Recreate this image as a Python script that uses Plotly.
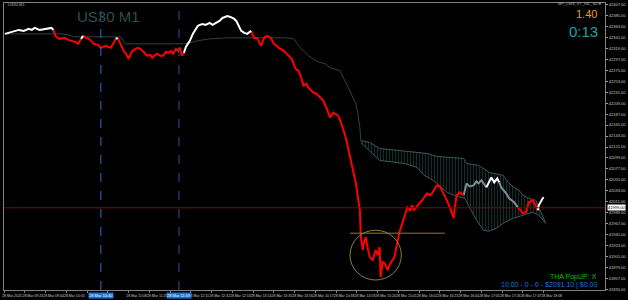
import plotly.graph_objects as go

# ---------------- data ----------------
# main price path (minute offset, price, bar colour state: w=above, r=below, g=inside cloud)
price_t = [3, 7, 12, 17, 22, 27, 30, 33, 38, 43, 47, 50, 52,
           54, 58, 63, 67, 70, 74, 77, 80, 82,
           85, 88, 93, 97, 100, 105, 110, 113, 115, 117,
           120, 123, 126, 128, 132, 137, 140, 142, 147, 150, 152, 155, 157, 160, 163, 166, 168, 171, 173, 176, 178, 180, 182, 184,
           186, 188, 190, 193, 195, 198, 200, 203, 206, 210, 213, 215, 218, 220, 223, 226, 228, 231, 233, 235, 237, 240, 242, 245, 248, 252,
           255, 258, 262, 265, 268, 272, 275, 278, 280, 285, 288, 291, 293, 297, 300, 303, 305, 308, 310, 313, 315, 318, 320, 323, 325,
           328, 330, 332, 335, 337, 340, 343, 345, 348, 350, 353, 355, 357, 358, 360, 362, 363, 365, 366, 368, 370, 372, 375, 378, 380,
           382, 383, 385, 387, 390, 392, 393, 395, 397, 400, 402, 405, 408, 410, 413, 415, 417, 420, 422, 425, 427, 430, 433, 435, 438,
           440, 443, 445, 448, 450, 453, 455, 457, 458, 460, 463, 467,
           470, 473, 477, 480, 482, 485, 488, 490,
           495, 498, 501, 503,
           505, 510, 513, 518, 522,
           527, 530, 533, 537, 540, 542,
           543, 547, 548]
price_v = [42348, 42350, 42354, 42356, 42354, 42358, 42356, 42360, 42356, 42358, 42360, 42360, 42356,
           42344, 42338, 42340, 42336, 42334, 42332, 42328, 42338, 42344,
           42340, 42338, 42328, 42326, 42320, 42324, 42320, 42330, 42338, 42340,
           42328, 42314, 42306, 42298, 42314, 42320, 42318, 42314, 42304, 42306, 42300, 42306, 42308, 42304, 42304, 42312, 42310, 42314, 42308, 42318, 42314, 42320, 42304, 42310,
           42322, 42328, 42334, 42348, 42354, 42364, 42366, 42368, 42366, 42370, 42366, 42368, 42372, 42374, 42380, 42382, 42384, 42382, 42380, 42378, 42374, 42360, 42354, 42350, 42348, 42354,
           42340, 42340, 42324, 42340, 42344, 42340, 42328, 42324, 42320, 42314, 42308, 42304, 42298, 42278, 42274, 42258, 42244, 42248, 42240, 42234, 42230, 42228, 42224, 42218, 42214,
           42200, 42190, 42180, 42190, 42188, 42184, 42170, 42158, 42138, 42120, 42094, 42074, 42060, 42048, 42020, 41994, 41940, 41914, 41928, 41940, 41918, 41900, 41894, 41914, 41904,
           41920, 41860, 41890, 41888, 41874, 41884, 41888, 41894, 41900, 41934, 41950, 41968, 41988, 42000, 41994, 42004, 41994, 42004, 42008, 42014, 42020, 42028, 42024, 42028, 42038,
           42044, 42042, 42034, 42024, 42014, 42000, 41988, 41978, 42000, 42024, 42030, 42024,
           42048, 42042, 42044, 42052, 42048, 42054, 42046, 42040,
           42060, 42050, 42058, 42050,
           42040, 42028, 42018, 42010, 42000,
           41988, 41990, 42010, 42014, 42000, 41994,
           42004, 42018, 42020]
price_state = (["w"] * 13 + ["r"] * 8 + ["w"] + ["r"] * 9 + ["w"] + ["r"] * 24 + ["w"] * 26 +
               ["r"] * 87 + ["g"] * 8 + ["w"] * 4 + ["g"] * 5 + ["r"] * 6 + ["w"] * 3)

# base line (spans joined) before the cloud opens
base_t = [2, 55, 60, 67, 73, 120, 125, 183, 190, 197, 210, 227, 290, 295, 302, 310, 320, 327, 332, 342, 347, 352, 358, 360, 362, 363]
base_v = [42348, 42348, 42348, 42346, 42342, 42342, 42328, 42328, 42330, 42334, 42338, 42340, 42340, 42338, 42320, 42304,
          42292, 42288, 42280, 42274, 42254, 42234, 42208, 42188, 42160, 42134]

# cloud spans
spanA_t = [363, 372, 382, 400, 430, 440, 467, 470, 482, 493, 507, 512, 518, 523, 527, 533, 540, 543, 550]
spanA_v = [42134, 42130, 42118, 42114, 42108, 42102, 42098, 42088, 42084, 42070, 42064, 42050, 42040, 42034, 42024,
           42018, 42014, 42000, 41968]
spanB_t = [363, 382, 407, 420, 427, 433, 440, 450, 460, 468, 473, 480, 487, 493, 500, 507, 517, 527, 537, 543, 550]
spanB_v = [42130, 42094, 42088, 42080, 42064, 42058, 42048, 42030, 42022, 42018, 42000, 41974, 41954, 41952, 41958,
           41968, 41978, 41984, 41990, 41984, 41968]

current_price = 41999
support_level = 41948
support_t = [352, 448]
circle_t = [352, 404]
circle_v = [41854, 41954]
vline_t = [100, 179]
vline_labels = ["28 Mar 10:40", "28 Mar 11:59"]

x_tickvals = [2, 23, 44, 65, 86, 107, 128, 149, 170, 191, 212, 233, 254, 275, 296, 317, 338, 359, 380, 401,
              422, 443, 464, 485, 506, 527, 548]
# labels under the highlighted vertical-line times are covered, as in the reference
x_ticktext = ["28 Mar 2025", "28 Mar 09:23", "28 Mar 09:44", "28 Mar 10:05", "", "",
              "28 Mar 11:08", "28 Mar 11:29", "", "28 Mar 12:11", "28 Mar 12:32", "28 Mar 12:53",
              "28 Mar 13:14", "28 Mar 13:35", "28 Mar 13:56", "28 Mar 14:17", "28 Mar 14:38", "28 Mar 14:59",
              "28 Mar 15:20", "28 Mar 15:41", "28 Mar 16:02", "28 Mar 16:23", "28 Mar 16:44", "28 Mar 17:05",
              "28 Mar 17:26", "28 Mar 17:47", "28 Mar 18:08"]

# ---------------- figure ----------------
W, H = 628, 300
ML, MR, MT, MB = 2, 18, 2, 10
PW, PH = W - ML - MR, H - MT - MB


def px(xp):
    return (xp - ML) / PW


def py(yp):
    return (H - MB - yp) / PH


fig = go.Figure()

# base line
fig.add_trace(go.Scatter(x=base_t, y=base_v, mode="lines", line=dict(color="#2c4444", width=1), hoverinfo="skip"))

# cloud
fig.add_trace(go.Scatter(x=spanB_t, y=spanB_v, mode="lines", line=dict(color="#3a5a5a", width=1), hoverinfo="skip"))
fig.add_trace(go.Scatter(x=spanA_t, y=spanA_v, mode="lines", line=dict(color="#3a5a5a", width=1),
                         fill="tonexty", fillcolor="rgba(0,0,0,0)",
                         fillpattern=dict(shape="|", fgcolor="#345454", bgcolor="#000000", size=3, solidity=0.4),
                         hoverinfo="skip"))

# price path, split by colour state
colors = {"w": "#ffffff", "r": "#ff0000", "g": "#7a9090"}
segs = {"w": ([], []), "r": ([], []), "g": ([], [])}
cur = None
for i, (t, v, s) in enumerate(zip(price_t, price_v, price_state)):
    if s != cur:
        if cur is not None:
            segs[cur][0].append(None)
            segs[cur][1].append(None)
            segs[s][0].append(price_t[i - 1])
            segs[s][1].append(price_v[i - 1])
        cur = s
    segs[s][0].append(t)
    segs[s][1].append(v)
for s in ["g", "r", "w"]:
    fig.add_trace(go.Scatter(x=segs[s][0], y=segs[s][1], mode="lines",
                             line=dict(color=colors[s], width=2), connectgaps=False, hoverinfo="skip"))

shapes = []
# current price line
shapes.append(dict(type="line", xref="paper", x0=0, x1=1, yref="y", y0=current_price, y1=current_price,
                   line=dict(color="#8b0000", width=1)))
# support line
shapes.append(dict(type="line", xref="x", x0=support_t[0], x1=support_t[1], yref="y", y0=support_level,
                   y1=support_level, line=dict(color="#8a7a30", width=1)))
# circle
shapes.append(dict(type="circle", xref="x", x0=circle_t[0], x1=circle_t[1], yref="y", y0=circle_v[0],
                   y1=circle_v[1], line=dict(color="#8a8040", width=1)))
# vertical dashed lines
vcol = ["#2a70c8", "#2a5590"]
for t, c in zip(vline_t, vcol):
    shapes.append(dict(type="line", xref="x", x0=t, x1=t, yref="paper", y0=0, y1=1,
                       line=dict(color=c, width=1, dash="dash")))

ann = []
ann.append(dict(text="US30 M1", xref="paper", yref="paper", x=px(108), y=py(16), showarrow=False,
                font=dict(family="Liberation Sans", size=15, color="#2f4f4f"), xanchor="center", yanchor="middle"))
ann.append(dict(text="1.40", xref="paper", yref="paper", x=px(604), y=py(13), showarrow=False,
                font=dict(family="Liberation Sans", size=11, color="#e0a010"), xanchor="right", yanchor="middle"))
ann.append(dict(text="0:13", xref="paper", yref="paper", x=px(605), y=py(31), showarrow=False,
                font=dict(family="Liberation Sans", size=15, color="#1fa0a0"), xanchor="right", yanchor="middle"))
ann.append(dict(text="THA PopUP: X", xref="paper", yref="paper", x=px(604), y=py(277), showarrow=False,
                font=dict(family="Liberation Sans", size=7, color="#00c000"), xanchor="right", yanchor="middle"))
ann.append(dict(text="10.00 - 0 - 0 - $2091.10 | $0.00", xref="paper", yref="paper", x=px(604), y=py(285),
                showarrow=False, font=dict(family="Liberation Sans", size=7, color="#1e78d7"),
                xanchor="right", yanchor="middle"))
ann.append(dict(text="US30,M1", xref="paper", yref="paper", x=px(4), y=py(4), showarrow=False,
                font=dict(family="Liberation Sans", size=4, color="#b0b0b0"), xanchor="left", yanchor="middle"))
ann.append(dict(text="MP_LWS_V7_INL_S0 ⊕", xref="paper", yref="paper", x=px(608), y=py(3), showarrow=False,
                font=dict(family="Liberation Sans", size=4, color="#b0b0b0"), xanchor="right", yanchor="middle"))
# current price label
ann.append(dict(text=f"{current_price:.2f}", xref="paper", yref="y", x=1, y=current_price, xanchor="left",
                xshift=2, showarrow=False, bgcolor="#ffffff", borderpad=0,
                font=dict(family="Liberation Sans", size=4, color="#000000"), yanchor="middle"))
# highlighted time labels of vertical lines
for t, lab in zip(vline_t, vline_labels):
    ann.append(dict(text=lab, xref="x", yref="paper", x=t, y=0, yanchor="top", yshift=-2,
                    xanchor="center", showarrow=False, bgcolor="#1e6fd0", borderpad=0,
                    font=dict(family="Liberation Sans", size=4, color="#ffffff")))

fig.update_layout(
    width=W, height=H, margin=dict(l=ML, r=MR, t=MT, b=MB),
    paper_bgcolor="#000000", plot_bgcolor="#000000", showlegend=False,
    shapes=shapes, annotations=ann,
    xaxis=dict(range=[ML, ML + PW], showgrid=False, zeroline=False, showline=True, linecolor="#808080",
               mirror=True, tickmode="array", tickvals=x_tickvals, ticktext=x_ticktext, ticks="outside",
               ticklen=2, tickcolor="#808080", tickangle=0, ticklabelshift=8, ticklabelstandoff=0,
               tickfont=dict(family="Liberation Sans", size=3.5, color="#c8c8c8")),
    yaxis=dict(range=[41834, 42410], side="right", showgrid=False, zeroline=False, showline=True,
               linecolor="#808080", mirror=True, tick0=42011, dtick=22, ticks="outside", ticklen=2,
               tickcolor="#a0a0a0", tickformat=".2f", ticklabelstandoff=0,
               tickfont=dict(family="Liberation Sans", size=4, color="#c8c8c8")),
)

fig.write_html("out.html")
